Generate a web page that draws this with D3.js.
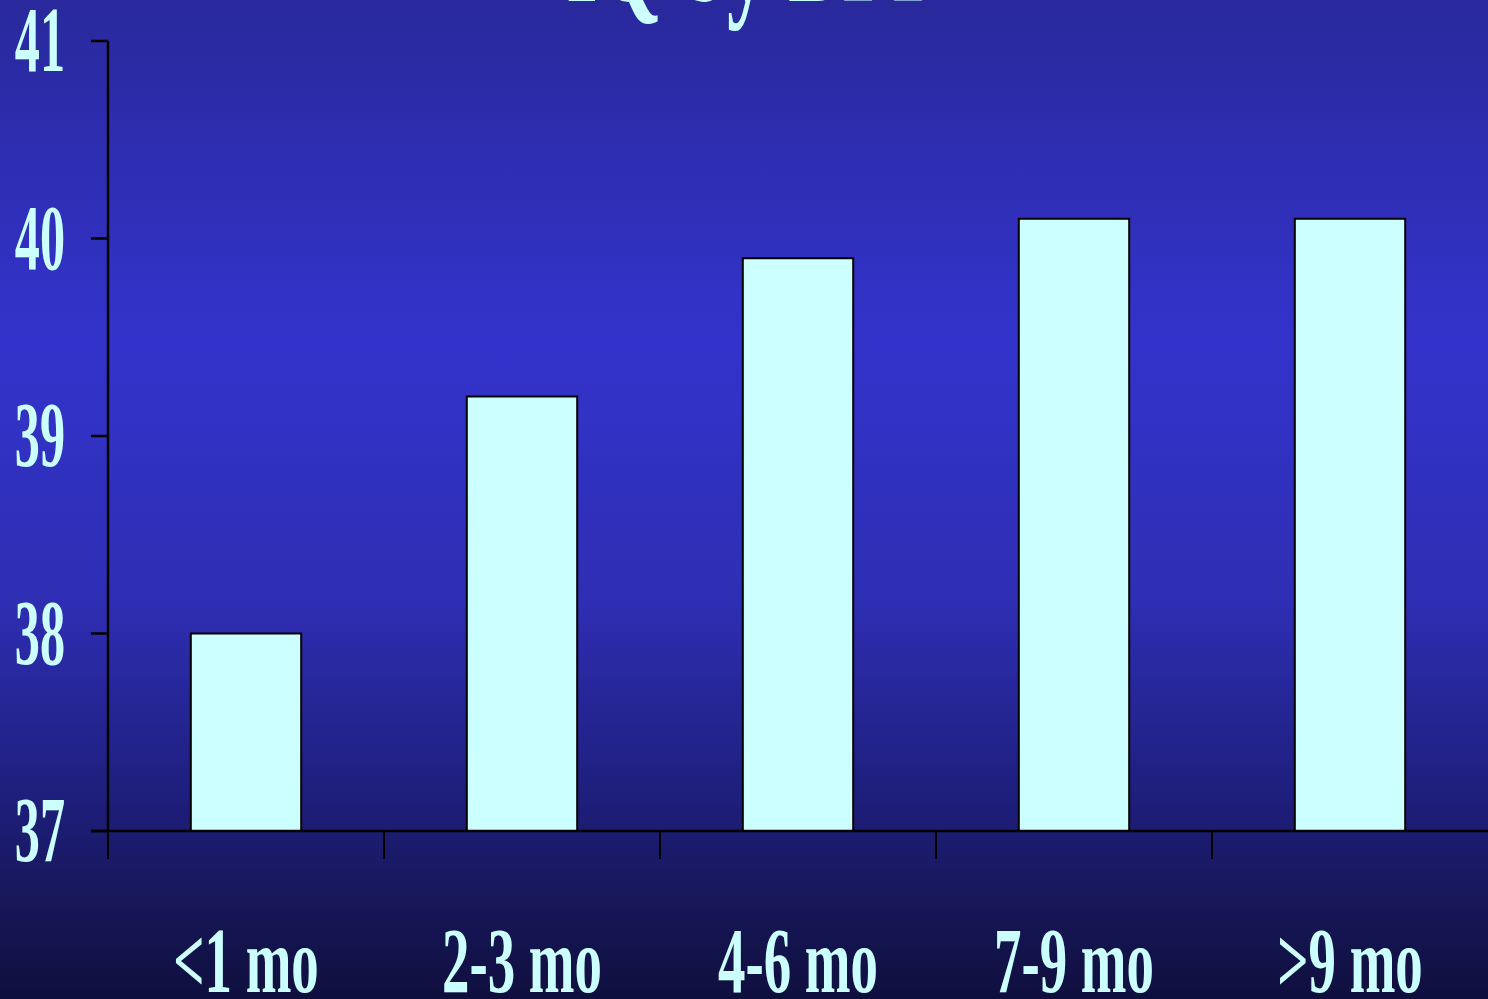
<!DOCTYPE html>
<html>
<head>
<meta charset="utf-8">
<script src="https://cdn.jsdelivr.net/npm/d3@7"></script>
<style>
  html, body { margin: 0; padding: 0; overflow: hidden; background: #2a2aa0; }
  svg { display: block; }
</style>
</head>
<body>
<svg id="chart" width="1488" height="999"></svg>
<script>
const title = "IQ by BPP";
const categories = ["<1 mo", "2-3 mo", "4-6 mo", "7-9 mo", ">9 mo"];
const values = [38.0, 39.2, 39.9, 40.1, 40.1];
const yTicks = [37, 38, 39, 40, 41];

const W = 1488, H = 999;
const svg = d3.select("#chart");

const defs = svg.append("defs");
const grad = defs.append("linearGradient").attr("id", "bg")
  .attr("x1", 0).attr("y1", 0).attr("x2", 0).attr("y2", 1);
[[0, "#29299c"], [0.34, "#3333cc"], [0.6, "#2e2eb4"], [0.8, "#1e1e7c"], [0.9, "#17175a"], [1, "#0f0f3e"]]
  .forEach(([o, c]) => grad.append("stop").attr("offset", o).attr("stop-color", c));
svg.append("rect").attr("width", W).attr("height", H).attr("fill", "url(#bg)");

const txtColor = "#ccffff";
const font = "'Liberation Serif', 'Times New Roman', serif";

const x = d3.scaleBand().domain(categories).range([108, 1488]).padding(0);
const y = d3.scaleLinear().domain([37, 41]).range([831, 41]);
const barW = x.bandwidth() * 0.4;

// bars
svg.append("g").selectAll("rect").data(values).join("rect")
  .attr("x", (d, i) => x(categories[i]) + x.bandwidth() / 2 - barW / 2)
  .attr("y", d => y(d))
  .attr("width", barW)
  .attr("height", d => y(37) - y(d))
  .attr("fill", "#ccffff")
  .attr("stroke", "#000")
  .attr("stroke-width", 2);

// y axis
const yAxis = svg.append("g");
yAxis.append("line").attr("x1", 108).attr("x2", 108).attr("y1", y(41)).attr("y2", y(37))
  .attr("stroke", "#000").attr("stroke-width", 2.5);
yAxis.selectAll("line.tick").data(yTicks).join("line").attr("class", "tick")
  .attr("x1", 91).attr("x2", 108).attr("y1", d => y(d)).attr("y2", d => y(d))
  .attr("stroke", "#000").attr("stroke-width", 2.5);
yAxis.selectAll("text").data(yTicks).join("text")
  .attr("transform", d => `translate(65,${y(d) + 30}) scale(0.54,1)`)
  .attr("text-anchor", "end")
  .attr("font-family", font).attr("font-weight", "bold").attr("font-size", 93)
  .attr("fill", txtColor)
  .text(d => d);

// x axis
const xAxis = svg.append("g");
xAxis.append("line").attr("x1", 91).attr("x2", 1488).attr("y1", y(37)).attr("y2", y(37))
  .attr("stroke", "#000").attr("stroke-width", 2.5);
xAxis.selectAll("line.tick").data(categories).join("line").attr("class", "tick")
  .attr("x1", d => x(d)).attr("x2", d => x(d)).attr("y1", y(37)).attr("y2", y(37) + 28)
  .attr("stroke", "#000").attr("stroke-width", 2);
xAxis.selectAll("text").data(categories).join("text")
  .attr("transform", d => `translate(${x(d) + x.bandwidth() / 2},992) scale(0.59,1)`)
  .attr("text-anchor", "middle")
  .attr("font-family", font).attr("font-weight", "bold").attr("font-size", 93)
  .attr("fill", txtColor)
  .text(d => d);

// title (cut off at top, as in the reference)
svg.append("text")
  .attr("transform", `translate(754,1) scale(0.57,1)`)
  .attr("text-anchor", "middle")
  .attr("font-family", font).attr("font-weight", "bold").attr("font-size", 143)
  .attr("fill", txtColor)
  .text(title);
</script>
</body>
</html>
